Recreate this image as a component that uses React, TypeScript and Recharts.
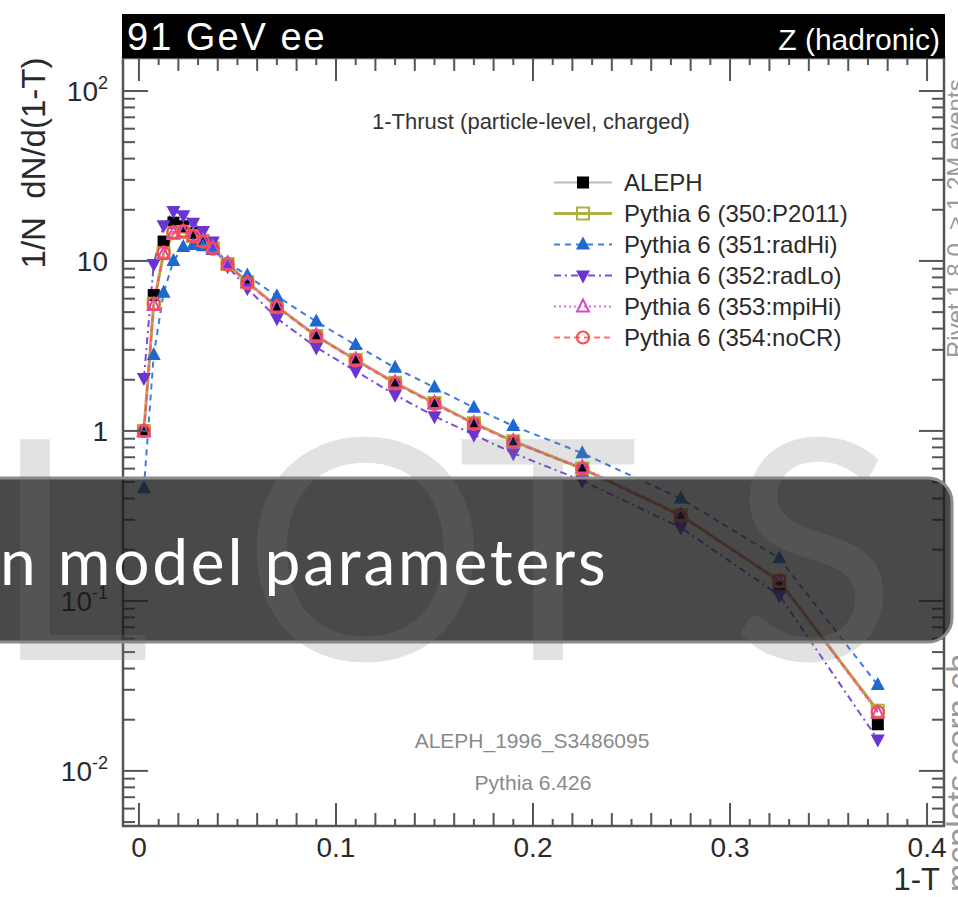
import React from 'react';
import { LineChart, Line, XAxis, YAxis, ReferenceArea, Legend } from 'recharts';

// 1-T bin centres (ALEPH thrust binning)
const thrust = [0.0025, 0.0075, 0.0125, 0.0175, 0.0225, 0.0275, 0.0325, 0.0375, 0.045, 0.055, 0.07, 0.09, 0.11, 0.13, 0.15, 0.17, 0.19, 0.225, 0.275, 0.325, 0.375];

const aleph = [1.0, 6.3, 13.0, 16.8, 16.0, 14.6, 13.2, 11.9, 9.6, 7.5, 5.4, 3.6, 2.6, 1.9, 1.45, 1.1, 0.86, 0.59, 0.31, 0.12, 0.0188];
const p2011 = [1.0, 5.6, 11.1, 14.6, 14.8, 14.0, 13.0, 11.9, 9.6, 7.5, 5.4, 3.62, 2.62, 1.92, 1.46, 1.11, 0.87, 0.6, 0.32, 0.131, 0.0226];
const radHi = [0.46, 2.8, 6.5, 10.0, 12.1, 12.4, 12.2, 11.6, 9.8, 8.2, 6.2, 4.4, 3.2, 2.35, 1.8, 1.37, 1.07, 0.74, 0.4, 0.178, 0.032];
const radLo = [2.05, 9.6, 16.2, 19.7, 18.6, 16.8, 15.0, 13.0, 9.3, 6.9, 4.6, 3.1, 2.25, 1.63, 1.22, 0.95, 0.74, 0.51, 0.27, 0.108, 0.0153];
const mpiHi = [1.0, 5.5, 11.0, 14.5, 14.9, 14.1, 13.1, 12.0, 9.6, 7.5, 5.4, 3.65, 2.63, 1.93, 1.46, 1.11, 0.87, 0.61, 0.32, 0.13, 0.022];
const noCR = [1.0, 5.6, 11.2, 14.8, 15.0, 14.0, 13.0, 11.8, 9.5, 7.4, 5.35, 3.6, 2.6, 1.9, 1.44, 1.1, 0.86, 0.6, 0.315, 0.132, 0.0222];

const yMajor = [0.01, 0.1, 1, 10, 100];
const yLabels: Record<string, [string, string]> = {
  '100': ['10', '2'],
  '10': ['10', ''],
  '1': ['1', ''],
  '0.1': ['10', '-1'],
  '0.01': ['10', '-2'],
};
const xDomain = [-0.0081, 0.4086];
const yDomain = [0.00474, 156.3];

// minor ticks
const xTicks: number[] = [];
for (let i = 0; i <= 40; i++) xTicks.push(i / 100);
const yTicks: number[] = [];
[0.001, 0.01, 0.1, 1, 10, 100].forEach((d) => {
  for (let m = 1; m <= 9; m++) {
    const v = Number((m * d).toPrecision(3));
    if (v >= yDomain[0] && v <= yDomain[1]) yTicks.push(v);
  }
});

const rows = thrust.map((x, i) => ({
  x,
  aleph: aleph[i],
  p2011: p2011[i],
  radHi: radHi[i],
  radLo: radLo[i],
  mpiHi: mpiHi[i],
  noCR: noCR[i],
}));

const SERIES = [
  { key: 'aleph', name: 'ALEPH', color: '#000000', line: 'none', legendLine: '#bbbbbb', width: 1.5, dash: undefined, marker: 'squareFilled' },
  { key: 'p2011', name: 'Pythia 6 (350:P2011)', color: '#b0b040', line: '#b0b040', legendLine: '#b0b040', width: 3, dash: undefined, marker: 'squareOpen' },
  { key: 'radHi', name: 'Pythia 6 (351:radHi)', color: '#1f68d0', line: '#3b7ee0', legendLine: '#3b7ee0', width: 2, dash: '6 5', marker: 'triUp' },
  { key: 'radLo', name: 'Pythia 6 (352:radLo)', color: '#6a34d4', line: '#7a4ae0', legendLine: '#7a4ae0', width: 2, dash: '7 4 2 4', marker: 'triDown' },
  { key: 'mpiHi', name: 'Pythia 6 (353:mpiHi)', color: '#d04cc4', line: '#e070d8', legendLine: '#e070d8', width: 2, dash: '2 3', marker: 'triOpen' },
  { key: 'noCR', name: 'Pythia 6 (354:noCR)', color: '#ff4a4a', line: '#ff5a5a', legendLine: '#ff7070', width: 2, dash: '6 4', marker: 'circleOpen' },
];

const M = { top: 58, right: 14, bottom: 21, left: 23 };
const Y_W = 100;
const X_H = 50;
const PLOT_W = 958 - M.left - M.right - Y_W;
const PLOT_H = 897 - M.top - M.bottom - X_H;
const FRAME = '#555555';
const FONT = '"Liberation Sans", Arial, Helvetica, sans-serif';

const Marker = ({ kind, cx, cy, color }: { kind: string; cx: number; cy: number; color: string }) => {
  if (cx == null || cy == null || isNaN(cx) || isNaN(cy)) return null;
  switch (kind) {
    case 'squareFilled':
      return <rect x={cx - 6} y={cy - 6} width={12} height={12} fill={color} />;
    case 'squareOpen':
      return <rect x={cx - 6} y={cy - 6} width={12} height={12} fill="none" stroke={color} strokeWidth={2} />;
    case 'triUp':
      return <polygon points={`${cx},${cy - 8} ${cx - 7},${cy + 5} ${cx + 7},${cy + 5}`} fill={color} />;
    case 'triDown':
      return <polygon points={`${cx},${cy + 8} ${cx - 7},${cy - 5} ${cx + 7},${cy - 5}`} fill={color} />;
    case 'triOpen':
      return <polygon points={`${cx},${cy - 7} ${cx - 6},${cy + 5} ${cx + 6},${cy + 5}`} fill="none" stroke={color} strokeWidth={2} />;
    case 'circleOpen':
      return <circle cx={cx} cy={cy} r={6} fill="none" stroke={color} strokeWidth={2.2} />;
    default:
      return null;
  }
};

const XTick = (props: any) => {
  const { x, y, payload } = props;
  const v = payload.value;
  const hund = Math.round(v * 100);
  const major = hund % 10 === 0;
  const len = major ? 23 : hund % 2 === 0 ? 13 : 7;
  return (
    <g>
      <line x1={x} x2={x} y1={y} y2={y - len} stroke={FRAME} strokeWidth={2} />
      <line x1={x} x2={x} y1={y - PLOT_H} y2={y - PLOT_H + len} stroke={FRAME} strokeWidth={2} />
      {major && (
        <text x={x} y={y + 31} textAnchor="middle" fontSize={28} fill="#2a2a2a" fontFamily={FONT}>
          {String(v)}
        </text>
      )}
    </g>
  );
};

const YTick = (props: any) => {
  const { x, y, payload } = props;
  const v = payload.value;
  const major = yMajor.includes(v);
  const len = major ? 25 : 12;
  const lab = yLabels[String(v)];
  return (
    <g>
      <line x1={x} x2={x + len} y1={y} y2={y} stroke={FRAME} strokeWidth={2} />
      <line x1={x + PLOT_W} x2={x + PLOT_W - len} y1={y} y2={y} stroke={FRAME} strokeWidth={2} />
      {major && lab && (
        <text x={x - 15} y={y + 10} textAnchor="end" fontSize={28} fill="#2a2a2a" fontFamily={FONT}>
          {lab[0]}
          {lab[1] && (
            <tspan dy={-12} fontSize={18}>
              {lab[1]}
            </tspan>
          )}
        </text>
      )}
    </g>
  );
};

const LegendBox = () => (
  <div style={{ fontFamily: FONT, fontSize: 24, color: '#2a2a2a' }}>
    {SERIES.map((s) => (
      <div key={s.key} style={{ display: 'flex', alignItems: 'center', height: 31 }}>
        <svg width={70} height={31}>
          <line x1={4} x2={62} y1={15.5} y2={15.5} stroke={s.legendLine} strokeWidth={s.key === 'p2011' ? 3 : 1.8} strokeDasharray={s.dash} />
          <Marker kind={s.marker} cx={33} cy={15.5} color={s.color} />
        </svg>
        <span style={{ marginLeft: 4, whiteSpace: 'nowrap' }}>{s.name}</span>
      </div>
    ))}
  </div>
);

export default function App() {
  return (
    <div style={{ position: 'relative', width: 958, height: 897, overflow: 'hidden', background: '#fff' }}>
      <style>{`body{margin:0}`}</style>
      <LineChart width={958} height={897} data={rows} margin={M}>
        <XAxis
          type="number"
          dataKey="x"
          domain={xDomain}
          ticks={xTicks}
          interval={0}
          allowDataOverflow
          axisLine={false}
          tickLine={false}
          tickSize={0}
          tickMargin={0}
          height={X_H}
          tick={XTick}
        />
        <YAxis
          scale="log"
          domain={yDomain}
          ticks={yTicks}
          interval={0}
          allowDataOverflow
          axisLine={false}
          tickLine={false}
          tickSize={0}
          tickMargin={0}
          width={Y_W}
          tick={YTick}
        />
        <ReferenceArea
          x1={xDomain[0]}
          x2={xDomain[1]}
          y1={yDomain[0]}
          y2={yDomain[1]}
          fill="none"
          fillOpacity={0}
          stroke={FRAME}
          strokeWidth={2.5}
          ifOverflow="visible"
        />
        <Legend
          layout="vertical"
          align="center"
          verticalAlign="middle"
          content={() => <LegendBox />}
          wrapperStyle={{ position: 'absolute', left: 550, top: 167, width: 360, height: 190 }}
        />
        {SERIES.map((s) => (
          <Line
            key={s.key}
            dataKey={s.key}
            name={s.name}
            stroke={s.line}
            strokeWidth={s.width}
            strokeDasharray={s.dash}
            isAnimationActive={false}
            dot={(p: any) => <Marker key={`${s.key}-${p.index}`} kind={s.marker} cx={p.cx} cy={p.cy} color={s.color} />}
            activeDot={false}
          />
        ))}
      </LineChart>

      <svg width={958} height={897} style={{ position: 'absolute', left: 0, top: 0, pointerEvents: 'none' }}>
        {/* header band */}
        <rect x={122} y={14} width={823} height={44} fill="#000" />
        <text x={127} y={50} fontSize={38} letterSpacing={2} fill="#fff" fontFamily={FONT} style={{ whiteSpace: 'pre' }}>
          91 GeV ee
        </text>
        <text x={940} y={50} fontSize={30} fill="#fff" textAnchor="end" fontFamily={FONT}>
          Z (hadronic)
        </text>
        {/* y title */}
        <text
          transform="translate(45,163) rotate(-90)"
          fontSize={33}
          fill="#2a2a2a"
          textAnchor="middle"
          fontFamily={FONT}
          style={{ whiteSpace: 'pre' }}
        >
          {'1/N  dN/d(1-T)'}
        </text>
        <text x={940} y={890} fontSize={31} fill="#2a2a2a" textAnchor="end" fontFamily={FONT}>
          1-T
        </text>
        <text x={531} y={129} fontSize={22} fill="#333" textAnchor="middle" fontFamily={FONT}>
          1-Thrust (particle-level, charged)
        </text>
        <text x={532} y={748} fontSize={21} fill="#8a8a8a" textAnchor="middle" fontFamily={FONT}>
          ALEPH_1996_S3486095
        </text>
        <text x={533} y={790} fontSize={21} fill="#8a8a8a" textAnchor="middle" fontFamily={FONT}>
          Pythia 6.426
        </text>
        {/* side stamps */}
        <text transform="translate(964,358) rotate(-90)" fontSize={24} fill="#9a9a9a" fontFamily={FONT}>
          Rivet 1.8.0,  ≥ 1.2M events
        </text>
        <text transform="translate(970,892) rotate(-90)" fontSize={34} fill="#9a9a9a" fontFamily={FONT}>
          mcplots.cern.ch
        </text>

        {/* banner */}
        <rect x={-40} y={478} width={992} height={164} rx={24} fill="rgba(28,28,28,0.8)" stroke="#8c8c8c" strokeWidth={3} />
        {/* watermark */}
        <g fill="rgba(125,125,125,0.22)" fontFamily="Lato, 'Open Sans', sans-serif" fontWeight={400} fontSize={308}>
          <text x={-8} y={660}>L</text>
          <text x={242} y={660}>O</text>
          <text x={457} y={660}>T</text>
          <text x={730} y={660}>S</text>
        </g>
        <text x={0} y={585} fontSize={64} letterSpacing={2.8} fill="#fff" fontFamily="Lato, 'Open Sans', sans-serif">
          n model parameters
        </text>
      </svg>
    </div>
  );
}
